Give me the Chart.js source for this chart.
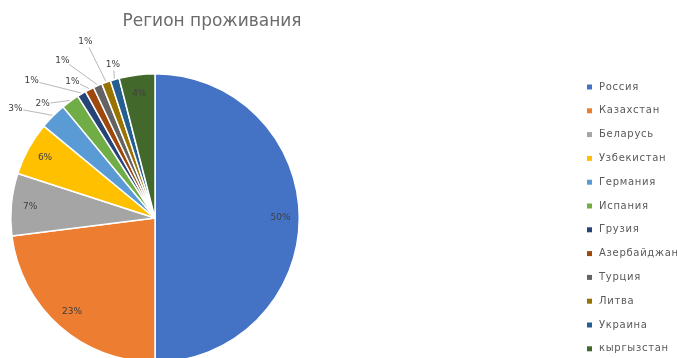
<!DOCTYPE html>
<html>
<head>
<meta charset="utf-8">
<script src="https://cdn.jsdelivr.net/npm/chart.js@4.4.1/dist/chart.umd.min.js"></script>
<style>
  html, body { margin: 0; padding: 0; overflow: hidden; background: #fff; }
  #wrap { position: relative; width: 677px; height: 380px; }
</style>
</head>
<body>
<div id="wrap"><canvas id="regionChart"></canvas></div>
<script>
// Регион проживания респондентов, доли в %
const regions = ["Россия", "Казахстан", "Беларусь", "Узбекистан", "Германия", "Испания",
                 "Грузия", "Азербайджан", "Турция", "Литва", "Украина", "кыргызстан"];
const shares = [50, 23, 7, 6, 3, 2, 1, 1, 1, 1, 1, 4];
const sliceColors = ["#4472C4", "#ED7D31", "#A5A5A5", "#FFC000", "#5B9BD5", "#70AD47",
                     "#264478", "#9E480E", "#636363", "#997300", "#255E91", "#43682B"];
const chartTitle = "Регион проживания";

// выноски для маленьких секторов: [доп. радиус, сдвиг угла в градусах]
const callouts = {
  4: [33, -7], 5: [16, -8.5], 6: [40, -11.4], 7: [15, -4.2],
  8: [38, -7.1], 9: [45, -1.8], 10: [15, 0.9]
};

const labelsPlugin = {
  id: "sliceLabels",
  afterDatasetsDraw(chart) {
    const ctx = chart.ctx;
    const meta = chart.getDatasetMeta(0);
    ctx.save();
    ctx.font = "9px 'DejaVu Sans'";
    ctx.textAlign = "center";
    ctx.textBaseline = "middle";
    meta.data.forEach((arc, i) => {
      const { x, y, startAngle, endAngle, outerRadius } = arc.getProps(["x", "y", "startAngle", "endAngle", "outerRadius"], true);
      const mid = (startAngle + endAngle) / 2;
      const text = shares[i] + "%";
      if (callouts[i]) {
        const [extra, shift] = callouts[i];
        const a = mid + shift * Math.PI / 180;
        const lx = x + Math.cos(a) * (outerRadius + extra);
        const ly = y + Math.sin(a) * (outerRadius + extra);
        // линия от подписи к краю сектора
        const ex = x + Math.cos(mid) * (outerRadius + 1);
        const ey = y + Math.sin(mid) * (outerRadius + 1);
        const dx = ex - lx, dy = ey - ly;
        const len = Math.hypot(dx, dy);
        if (len > 12) {
          ctx.strokeStyle = "#a6a6a6";
          ctx.lineWidth = 0.8;
          ctx.beginPath();
          ctx.moveTo(lx + dx / len * 8, ly + dy / len * 6);
          ctx.lineTo(ex, ey);
          ctx.stroke();
        }
        ctx.fillStyle = "#404040";
        ctx.fillText(text, lx, ly);
      } else {
        const r = outerRadius * 0.87;
        ctx.fillStyle = "#404040";
        ctx.fillText(text, x + Math.cos(mid) * r, y + Math.sin(mid) * r);
      }
    });
    ctx.restore();
  },
  afterDraw(chart) {
    const ctx = chart.ctx;
    ctx.save();
    // заголовок
    ctx.font = "17px 'DejaVu Sans'";
    ctx.fillStyle = "#6b6b6b";
    ctx.textAlign = "center";
    ctx.textBaseline = "middle";
    ctx.fillText(chartTitle, 212, 22);
    // легенда справа
    ctx.font = "10px 'DejaVu Sans'";
    ctx.letterSpacing = "0.7px";
    ctx.textAlign = "left";
    regions.forEach((name, i) => {
      const cy = 87 + i * 23.8;
      ctx.fillStyle = sliceColors[i];
      ctx.fillRect(587, cy - 2.5, 5, 5);
      ctx.fillStyle = "#595959";
      ctx.fillText(name, 599, cy);
    });
    ctx.restore();
  }
};

new Chart(document.getElementById("regionChart"), {
  type: "pie",
  data: {
    labels: regions,
    datasets: [{
      data: shares,
      backgroundColor: sliceColors,
      borderColor: "#ffffff",
      borderWidth: 1.5,
      hoverOffset: 0
    }]
  },
  options: {
    responsive: true,
    maintainAspectRatio: false,
    animation: false,
    layout: { padding: { left: 10, right: 377, top: 73, bottom: 17 } },
    plugins: {
      legend: { display: false },
      tooltip: { enabled: false },
      title: { display: false }
    }
  },
  plugins: [labelsPlugin]
});
</script>
</body>
</html>
